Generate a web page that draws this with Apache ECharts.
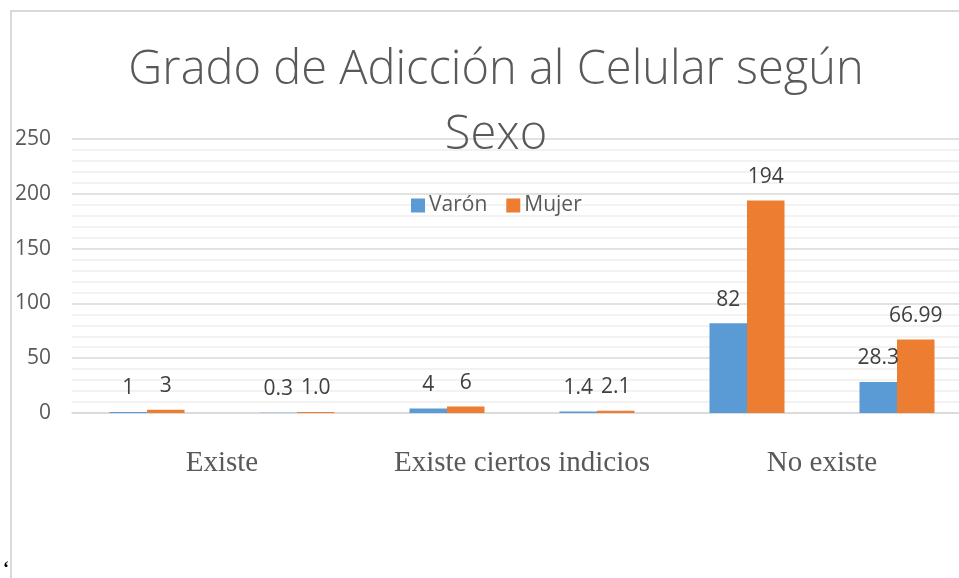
<!DOCTYPE html>
<html>
<head>
<meta charset="utf-8">
<script src="https://cdn.jsdelivr.net/npm/echarts@6/dist/echarts.min.js"></script>
<style>
  html, body { margin: 0; padding: 0; background: #fff; }
  #chart { width: 959px; height: 578px; }
</style>
</head>
<body>
<div id="chart"></div>
<script>
// datos
const grupos = ['Existe', 'Existe ciertos indicios', 'No existe']
const categorias = ['Existe n', 'Existe %', 'Indicios n', 'Indicios %', 'No existe n', 'No existe %']
const varon = [1, 0.3, 4, 1.4, 82, 28.3]
const mujer = [3, 1.0, 6, 2.1, 194, 66.99]
const etiquetasVaron = ['1', '0.3', '4', '1.4', '82', '28.3']
const etiquetasMujer = ['3', '1.0', '6', '2.1', '194', '66.99']
const ejeY = [0, 50, 100, 150, 200, 250]

const gris = '#595959'
const fuente = '"Open Sans", "Noto Sans", sans-serif'

const chart = echarts.init(document.getElementById('chart'), null, { renderer: 'canvas' })

const etiqueta = (textos) => ({
  show: true,
  position: 'top',
  distance: 13,
  color: '#404040',
  fontFamily: fuente,
  fontSize: 21,
  formatter: p => textos[p.dataIndex]
})

chart.setOption({
  animation: false,
  color: ['#5b9bd5', '#ed7d31'],
  title: {
    text: 'Grado de Adicción al Celular según\nSexo',
    left: 491,
    textAlign: 'center',
    top: 33,
    textStyle: {
      color: gris,
      fontFamily: fuente,
      fontWeight: 300,
      fontSize: 47,
      lineHeight: 65
    }
  },
  legend: {
    top: 190,
    left: 406,
    itemWidth: 14,
    itemHeight: 14,
    itemGap: 19,
    icon: 'rect',
    textStyle: { color: gris, fontFamily: fuente, fontSize: 21, padding: [0, 0, 0, -1] },
    data: ['Varón', 'Mujer']
  },
  grid: {
    left: 72,
    width: 900,
    top: 139,
    bottom: 165,
    containLabel: false,
    outerBoundsMode: 'none'
  },
  xAxis: [
    {
      type: 'category',
      data: categorias,
      position: 'bottom',
      axisLine: { lineStyle: { color: '#d9d9d9', width: 1.5 } },
      axisTick: { show: false },
      axisLabel: { show: false }
    },
    {
      type: 'category',
      data: grupos,
      position: 'bottom',
      axisLine: { show: false },
      axisTick: { show: false },
      axisLabel: {
        interval: 0,
        color: gris,
        fontFamily: '"Liberation Serif", "Times New Roman", serif',
        fontSize: 29,
        margin: 36
      }
    }
  ],
  yAxis: {
    type: 'value',
    min: ejeY[0],
    max: ejeY[ejeY.length - 1],
    interval: 50,
    axisLine: { show: false },
    axisTick: { show: false },
    axisLabel: { color: gris, fontFamily: fuente, fontSize: 21, margin: 21 },
    splitLine: { lineStyle: { color: '#d9d9d9', width: 1.5 } },
    minorTick: { show: false, splitNumber: 5 },
    minorSplitLine: { show: true, lineStyle: { color: '#eeeeee', width: 1.5 } }
  },
  series: [
    {
      name: 'Varón',
      type: 'bar',
      xAxisIndex: 0,
      data: varon,
      barWidth: 37.5,
      barGap: '0%',
      label: etiqueta(etiquetasVaron)
    },
    {
      name: 'Mujer',
      type: 'bar',
      xAxisIndex: 0,
      data: mujer,
      barWidth: 37.5,
      barGap: '0%',
      label: etiqueta(etiquetasMujer)
    }
  ],
  graphic: [
    {
      type: 'rect',
      shape: { x: 11, y: 11, width: 970, height: 600 },
      style: { fill: 'none', stroke: '#d9d9d9', lineWidth: 2 },
      silent: true
    },
    {
      type: 'text',
      left: 3,
      top: 560,
      style: { text: '‘', fill: '#000', font: 'bold 18px "Liberation Serif", serif' },
      silent: true
    }
  ]
})
</script>
</body>
</html>
